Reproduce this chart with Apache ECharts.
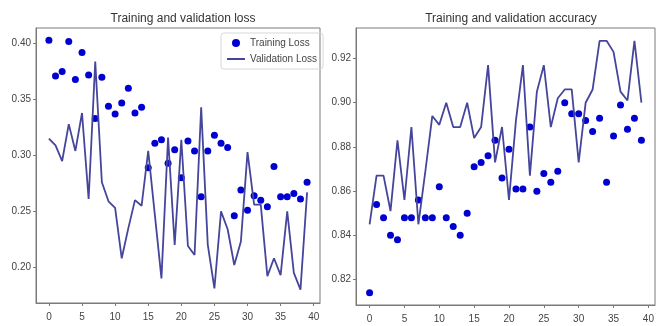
<!DOCTYPE html>
<html>
<head>
<meta charset="utf-8">
<script src="https://cdn.jsdelivr.net/npm/echarts@6/dist/echarts.min.js"></script>
<style>
  html, body {margin: 0; padding: 0; background: #fff;}
  #chart {width: 660px; height: 326px;}
</style>
</head>
<body>
<div id="chart"></div>
<script>
// epochs 0..39
const epochs = [0, 1, 2, 3, 4, 5, 6, 7, 8, 9, 10, 11, 12, 13, 14, 15, 16, 17, 18, 19,
    20, 21, 22, 23, 24, 25, 26, 27, 28, 29, 30, 31, 32, 33, 34, 35, 36, 37, 38, 39]

const trainLoss = [0.403, 0.371, 0.375, 0.402, 0.368, 0.392, 0.372, 0.333, 0.370, 0.344,
    0.337, 0.347, 0.360, 0.338, 0.343, 0.289, 0.311, 0.314, 0.293, 0.305,
    0.280, 0.313, 0.304, 0.263, 0.304, 0.318, 0.311, 0.307, 0.246, 0.269,
    0.251, 0.264, 0.260, 0.254, 0.290, 0.263, 0.263, 0.266, 0.261, 0.276]

const valLoss = [0.315, 0.309, 0.295, 0.328, 0.304, 0.338, 0.261, 0.384, 0.276, 0.259,
    0.253, 0.208, 0.235, 0.260, 0.255, 0.304, 0.247, 0.190, 0.316, 0.220,
    0.314, 0.219, 0.211, 0.343, 0.220, 0.181, 0.250, 0.234, 0.202, 0.223,
    0.303, 0.256, 0.256, 0.192, 0.208, 0.193, 0.250, 0.195, 0.180, 0.267]

const trainAcc = [0.814, 0.854, 0.848, 0.840, 0.838, 0.848, 0.848, 0.856, 0.848, 0.848,
    0.862, 0.848, 0.844, 0.840, 0.850, 0.871, 0.873, 0.876, 0.883, 0.866,
    0.879, 0.861, 0.861, 0.889, 0.860, 0.868, 0.864, 0.869, 0.900, 0.895,
    0.895, 0.892, 0.887, 0.893, 0.864, 0.885, 0.899, 0.888, 0.893, 0.883]

const valAcc = [0.845, 0.867, 0.867, 0.851, 0.883, 0.856, 0.889, 0.845, 0.869, 0.894,
    0.890, 0.900, 0.889, 0.889, 0.900, 0.884, 0.889, 0.917, 0.873, 0.889,
    0.856, 0.892, 0.917, 0.867, 0.905, 0.917, 0.889, 0.902, 0.906, 0.906,
    0.873, 0.900, 0.906, 0.928, 0.928, 0.923, 0.905, 0.901, 0.928, 0.900]

const lossTicks = [0.20, 0.25, 0.30, 0.35, 0.40]
const accTicks = [0.82, 0.84, 0.86, 0.88, 0.90, 0.92]
const epochTicks = [0, 5, 10, 15, 20, 25, 30, 35, 40]

const font = '"Liberation Sans Narrow", "Liberation Sans", sans-serif'
const frameColor = '#7a7a7a'
const dotColor = '#0000d0'
const lineColor = '#45459c'

const pair = (ys) => epochs.map((e, i) => [e, ys[i]])

const xAxisCfg = (gridIndex) => ({
    type: 'value',
    gridIndex,
    min: -1.95,
    max: 40.95,
    splitLine: {show: false},
    axisLine: {onZero: false, lineStyle: {color: frameColor}},
    axisTick: {length: 3, customValues: epochTicks, lineStyle: {color: frameColor}},
    axisLabel: {
        fontFamily: font, fontSize: 10, color: '#444', margin: 9,
        customValues: epochTicks,
        formatter: (v) => String(v)
    }
})

const yAxisCfg = (gridIndex, min, max, ticks) => ({
    type: 'value',
    gridIndex,
    min, max,
    splitLine: {show: false},
    axisLine: {show: true, onZero: false, lineStyle: {color: frameColor}},
    axisTick: {length: 3, customValues: ticks, lineStyle: {color: frameColor}},
    axisLabel: {
        fontFamily: font, fontSize: 10, color: '#444', margin: 5,
        customValues: ticks,
        formatter: (v) => v.toFixed(2)
    }
})

const myChart = echarts.init(document.getElementById('chart'), null, {renderer: 'canvas'})
myChart.setOption({
    animation: false,
    backgroundColor: '#fff',
    title: [
        {text: 'Training and validation loss', left: 178, top: 8, textAlign: 'center',
            textStyle: {fontFamily: font, fontSize: 12, fontWeight: 'normal', color: '#333'}},
        {text: 'Training and validation accuracy', left: 506, top: 8, textAlign: 'center',
            textStyle: {fontFamily: font, fontSize: 12, fontWeight: 'normal', color: '#333'}}
    ],
    legend: {
        left: 221, top: 33, orient: 'vertical',
        padding: [5, 6, 5, 6],
        itemGap: 6, itemWidth: 18, itemHeight: 8,
        borderColor: '#d8d8d8', borderWidth: 1, borderRadius: 3,
        textStyle: {fontFamily: font, fontSize: 10, color: '#444'},
        data: [
            {name: 'Training Loss', icon: 'circle', itemStyle: {color: dotColor}},
            {name: 'Validation Loss', icon: 'path://M0,4 L18,4 L18,6 L0,6 Z', itemStyle: {color: lineColor}}
        ]
    },
    grid: [
        {left: 36, top: 28, width: 284, height: 275, show: true, borderColor: frameColor, borderWidth: 1},
        {left: 356, top: 28, width: 299, height: 277, show: true, borderColor: frameColor, borderWidth: 1}
    ],
    xAxis: [xAxisCfg(0), xAxisCfg(1)],
    yAxis: [
        yAxisCfg(0, 0.168, 0.414, lossTicks),
        yAxisCfg(1, 0.8085, 0.9338, accTicks)
    ],
    series: [
        {name: 'Training Loss', type: 'scatter', xAxisIndex: 0, yAxisIndex: 0,
            symbolSize: 7, itemStyle: {color: dotColor, opacity: 1}, data: pair(trainLoss)},
        {name: 'Validation Loss', type: 'line', xAxisIndex: 0, yAxisIndex: 0,
            showSymbol: false, lineStyle: {color: lineColor, width: 1.8}, data: pair(valLoss)},
        {name: 'Training Acc', type: 'scatter', xAxisIndex: 1, yAxisIndex: 1,
            symbolSize: 7, itemStyle: {color: dotColor, opacity: 1}, data: pair(trainAcc)},
        {name: 'Validation Acc', type: 'line', xAxisIndex: 1, yAxisIndex: 1,
            showSymbol: false, lineStyle: {color: lineColor, width: 1.8}, data: pair(valAcc)}
    ]
})
</script>
</body>
</html>
